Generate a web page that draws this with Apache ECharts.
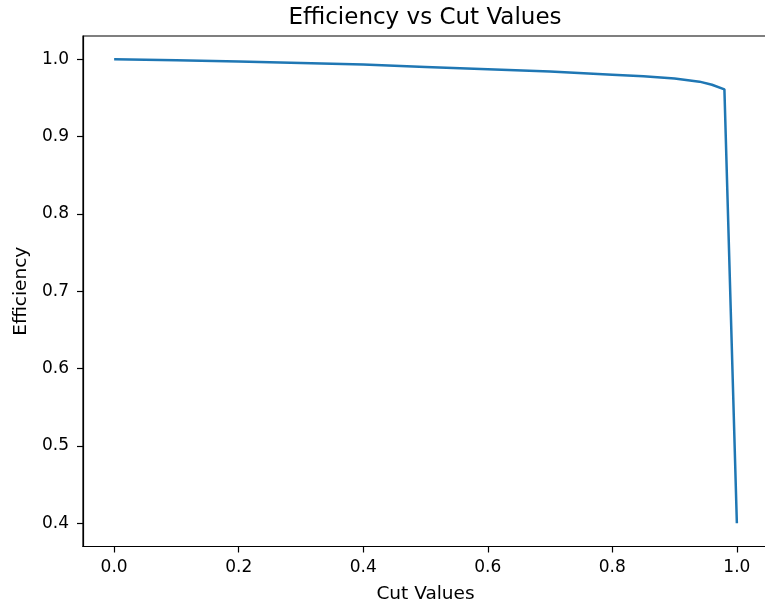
<!DOCTYPE html>
<html>
<head>
<meta charset="utf-8">
<script src="https://cdn.jsdelivr.net/npm/echarts@6/dist/echarts.min.js"></script>
<style>
html,body{margin:0;padding:0;background:#fff;}
#chart{width:765px;height:605px;}
</style>
</head>
<body>
<div id="chart"></div>
<script>
const cutValues = [0, 0.1, 0.2, 0.3, 0.4, 0.5, 0.6, 0.7, 0.8, 0.85, 0.9, 0.94, 0.96, 0.98, 1.0];
const efficiency = [1.0, 0.9985, 0.997, 0.995, 0.993, 0.990, 0.987, 0.984, 0.980, 0.978, 0.975, 0.971, 0.967, 0.961, 0.40];
const xTicks = [0, 0.2, 0.4, 0.6, 0.8, 1.0];
const yTicks = [0.4, 0.5, 0.6, 0.7, 0.8, 0.9, 1.0];

const font = 'DejaVu Sans';
const chart = echarts.init(document.getElementById('chart'), null, {renderer: 'canvas'});
chart.setOption({
  animation: false,
  backgroundColor: '#fff',
  title: {
    text: 'Efficiency vs Cut Values',
    left: 420, top: 2, textAlign: 'center',
    textStyle: {fontFamily: font, fontSize: 23, fontWeight: 'normal', color: '#000'}
  },
  grid: {
    left: 83, top: 36, width: 685, height: 510.5,
    outerBoundsMode: 'none', containLabel: false,
    show: true, borderColor: '#000', borderWidth: 1.2, backgroundColor: 'transparent'
  },
  xAxis: {
    type: 'value', min: -0.05, max: 1.05,
    name: 'Cut Values', nameLocation: 'middle', nameGap: 38,
    nameTextStyle: {fontFamily: font, fontSize: 18.5, color: '#000'},
    splitLine: {show: false},
    axisLine: {onZero: false, lineStyle: {color: '#000', width: 1.2}},
    axisTick: {show: true, length: 6, lineStyle: {color: '#000', width: 1.2}, customValues: xTicks},
    axisLabel: {fontFamily: font, fontSize: 17, color: '#000', margin: 13,
      customValues: xTicks, formatter: v => v.toFixed(1)}
  },
  yAxis: {
    type: 'value', min: 0.37, max: 1.03,
    name: 'Efficiency', nameLocation: 'middle', nameGap: 51, nameRotate: 90,
    nameTextStyle: {fontFamily: font, fontSize: 18.5, color: '#000'},
    splitLine: {show: false},
    axisLine: {show: true, onZero: false, lineStyle: {color: '#000', width: 1.2}},
    axisTick: {show: true, length: 6, lineStyle: {color: '#000', width: 1.2}, customValues: yTicks},
    axisLabel: {fontFamily: font, fontSize: 17, color: '#000', margin: 14,
      customValues: yTicks, formatter: v => v.toFixed(1)}
  },
  series: [{
    type: 'line',
    data: cutValues.map((c, i) => [c, efficiency[i]]),
    showSymbol: false, symbol: 'none',
    lineStyle: {color: '#1f77b4', width: 2.5},
    clip: true
  }]
});
</script>
</body>
</html>
